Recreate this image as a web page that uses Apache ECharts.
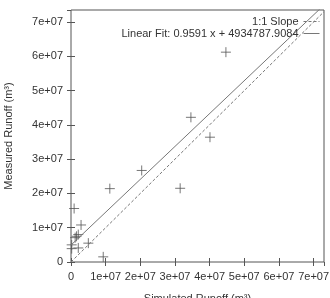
<!DOCTYPE html>
<html>
<head>
<meta charset="utf-8">
<script src="https://cdn.jsdelivr.net/npm/echarts@6/dist/echarts.min.js"></script>
<style>
html, body { margin: 0; padding: 0; background: #fff; }
#_chart { width: 330px; height: 298px; }
</style>
</head>
<body>
<div id="_chart"></div>
<script>
// simulated vs measured runoff (m3)
var simulated = [0.9e6, 2.9e6, 1.6e6, 2.1e6, 1.2e6, 0.2e6, 0.2e6, 2.1e6, 5.0e6, 9.3e6, 11.2e6, 20.4e6, 31.5e6, 34.6e6, 40.1e6, 44.7e6];
var measured  = [15.6e6, 10.8e6, 7.5e6, 8.0e6, 7.1e6, 5.0e6, 3.9e6, 4.1e6, 5.5e6, 1.5e6, 21.4e6, 26.7e6, 21.5e6, 42.2e6, 36.4e6, 61.2e6];

var fitSlope = 0.9591;
var fitIntercept = 4934787.9084;
var xMax = 7.3e7;
var yMax = 7.35e7;
var tickStep = 1e7;

var fitName = 'Linear Fit: ' + fitSlope + ' x + ' + fitIntercept.toFixed(4);
var slopeName = '1:1 Slope';

var points = [];
for (var i = 0; i < simulated.length; i++) {
    points.push([simulated[i], measured[i]]);
}
var fitLine = [[0, fitIntercept], [xMax, fitSlope * xMax + fitIntercept]];
var oneLine = [[0, 0], [xMax, xMax]];

function expLabel(v) {
    if (v === 0) return '0';
    return Math.round(v / 1e7) + 'e+07';
}

var font = 'Liberation Sans, Arial, sans-serif';

var chart = echarts.init(document.getElementById('_chart'));
var option = {
    animation: false,
    textStyle: {fontFamily: font},
    grid: {
        left: 71, right: 6, top: 10, bottom: 36,
        outerBoundsMode: 'none',
        show: true, borderColor: '#555', borderWidth: 1
    },
    legend: {
        orient: 'vertical',
        right: 5,
        top: 11,
        align: 'right',
        itemWidth: 16,
        itemHeight: 8,
        itemGap: 1,
        itemStyle: {opacity: 0},
        lineStyle: {width: 1},
        textStyle: {fontSize: 11, color: '#333', fontFamily: font},
        data: [slopeName, fitName]
    },
    xAxis: [{
        type: 'value', min: 0, max: xMax, interval: tickStep,
        name: 'Simulated Runoff (m\u00b3)', nameLocation: 'middle', nameGap: 31,
        nameTextStyle: {fontSize: 11, color: '#333'},
        axisLine: {show: false},
        axisTick: {inside: true, length: 4, lineStyle: {color: '#555'}},
        axisLabel: {fontSize: 11, color: '#333', margin: 9, showMaxLabel: false, formatter: expLabel},
        splitLine: {show: false}
    }, {
        type: 'value', position: 'top', min: 0, max: xMax, interval: tickStep,
        axisLine: {show: false},
        axisTick: {inside: true, length: 4, lineStyle: {color: '#555'}},
        axisLabel: {show: false},
        splitLine: {show: false}
    }],
    yAxis: [{
        type: 'value', min: 0, max: yMax, interval: tickStep,
        name: 'Measured Runoff (m\u00b3)', nameLocation: 'middle', nameGap: 57, nameRotate: 90,
        nameTextStyle: {fontSize: 11, color: '#333'},
        axisLine: {show: false},
        axisTick: {inside: true, length: 4, lineStyle: {color: '#555'}},
        axisLabel: {fontSize: 11, color: '#333', margin: 8, showMaxLabel: false, formatter: expLabel},
        splitLine: {show: false}
    }, {
        type: 'value', position: 'right', min: 0, max: yMax, interval: tickStep,
        axisLine: {show: false},
        axisTick: {inside: true, length: 4, lineStyle: {color: '#555'}},
        axisLabel: {show: false},
        splitLine: {show: false}
    }],
    series: [{
        name: 'data',
        type: 'scatter',
        symbol: 'path://M0,5L10,5M5,0L5,10',
        symbolSize: 10,
        itemStyle: {color: 'none', borderColor: '#555', borderWidth: 1},
        data: points
    }, {
        name: slopeName,
        type: 'line',
        symbol: 'none',
        lineStyle: {color: '#777', width: 1, type: [3, 2]},
        itemStyle: {color: '#777'},
        data: oneLine
    }, {
        name: fitName,
        type: 'line',
        symbol: 'none',
        lineStyle: {color: '#777', width: 1},
        itemStyle: {color: '#777'},
        data: fitLine
    }]
};
chart.setOption(option);
</script>
</body>
</html>
